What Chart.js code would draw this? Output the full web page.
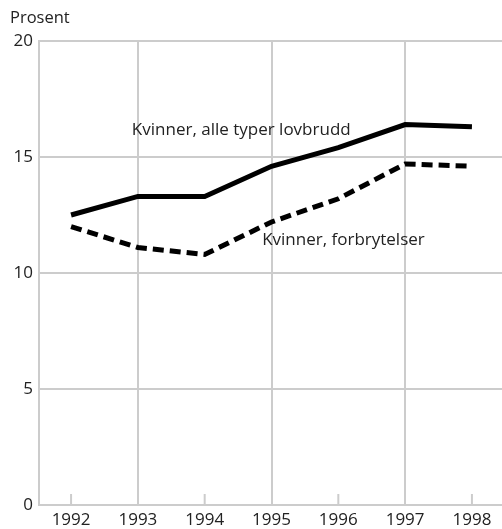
<!DOCTYPE html>
<html>
<head>
<meta charset="utf-8">
<script src="https://cdn.jsdelivr.net/npm/chart.js@4/dist/chart.umd.min.js"></script>
<style>
  html, body { margin: 0; padding: 0; background: #fff; }
  #wrap { width: 502px; height: 529px; position: relative; }
</style>
</head>
<body>
<div id="wrap"><canvas id="c"></canvas></div>
<script>
// ── Données ─────────────────────────────────────────────────────
var years        = [1992, 1993, 1994, 1995, 1996, 1997, 1998];
var alleLovbrudd = [12.5, 13.3, 13.3, 14.6, 15.4, 16.4, 16.3];
var forbrytelser = [12.0, 11.1, 10.8, 12.2, 13.2, 14.7, 14.6];
var yTicks       = [0, 5, 10, 15, 20];

var labelAlle = 'Kvinner, alle typer lovbrudd';
var labelForb = 'Kvinner, forbrytelser';

var FONT  = '"Open Sans", "Noto Sans", sans-serif';
var GRID  = '#cccccc';
var TEXT  = '#222222';

function pts(arr) {
    return years.map(function (y, i) { return { x: y, y: arr[i] }; });
}

// ── Plugin : titre d'axe, petites graduations, étiquettes de séries ──
var decor = {
    id: 'decor',
    beforeDatasetsDraw: function (chart) {
        var ctx = chart.ctx, x = chart.scales.x, y = chart.scales.y;
        // petites graduations internes (années paires)
        ctx.save();
        ctx.strokeStyle = GRID;
        ctx.lineWidth = 2;
        years.forEach(function (yr) {
            if (yr % 2 === 0) {
                var px = x.getPixelForValue(yr);
                ctx.beginPath();
                ctx.moveTo(px, y.bottom);
                ctx.lineTo(px, y.bottom - 11);
                ctx.stroke();
            }
        });
        ctx.restore();
    },
    afterDraw: function (chart) {
        var ctx = chart.ctx, x = chart.scales.x, y = chart.scales.y;
        ctx.save();
        ctx.fillStyle = TEXT;
        ctx.font = '16.5px ' + FONT;
        ctx.textBaseline = 'middle';
        ctx.textAlign = 'left';
        ctx.fillText('Prosent', 10, 18);
        ctx.font = '17px ' + FONT;
        ctx.fillText(labelAlle, x.getPixelForValue(1992.91), y.getPixelForValue(16.15));
        ctx.fillText(labelForb, x.getPixelForValue(1994.86), y.getPixelForValue(11.42));
        ctx.restore();
    }
};

new Chart(document.getElementById('c'), {
    type: 'line',
    data: {
        datasets: [{
            label: labelAlle,
            data: pts(alleLovbrudd),
            borderColor: '#000',
            borderWidth: 5,
            pointRadius: 0,
            tension: 0,
            fill: false
        }, {
            label: labelForb,
            data: pts(forbrytelser),
            borderColor: '#000',
            borderWidth: 5,
            borderDash: [11, 6],
            pointRadius: 0,
            tension: 0,
            fill: false
        }]
    },
    options: {
        responsive: true,
        maintainAspectRatio: false,
        animation: false,
        layout: { padding: { top: 41, right: 0, left: 0, bottom: 0 } },
        plugins: {
            legend: { display: false },
            tooltip: { enabled: false }
        },
        scales: {
            x: {
                type: 'linear',
                min: 1991.52,
                max: 1998.45,
                afterBuildTicks: function (s) {
                    s.ticks = years.map(function (v) { return { value: v }; });
                },
                afterFit: function (s) { s.height = 24; },
                grid: {
                    color: function (c) { return (c.tick && c.tick.value % 2 === 1) ? GRID : 'rgba(0,0,0,0)'; },
                    lineWidth: 2,
                    drawTicks: false
                },
                border: { display: true, color: GRID, width: 2 },
                ticks: {
                    autoSkip: false,
                    maxRotation: 0,
                    padding: 5,
                    color: TEXT,
                    font: { family: FONT, size: 17 },
                    callback: function (v) { return String(v); }
                }
            },
            y: {
                min: 0,
                max: 20,
                afterBuildTicks: function (s) {
                    s.ticks = yTicks.map(function (v) { return { value: v }; });
                },
                afterFit: function (s) { s.width = 39; },
                grid: { color: GRID, lineWidth: 2, drawTicks: false },
                border: { display: true, color: GRID, width: 2 },
                ticks: {
                    padding: 6,
                    color: TEXT,
                    font: { family: FONT, size: 17 }
                }
            }
        }
    },
    plugins: [decor]
});
</script>
</body>
</html>
